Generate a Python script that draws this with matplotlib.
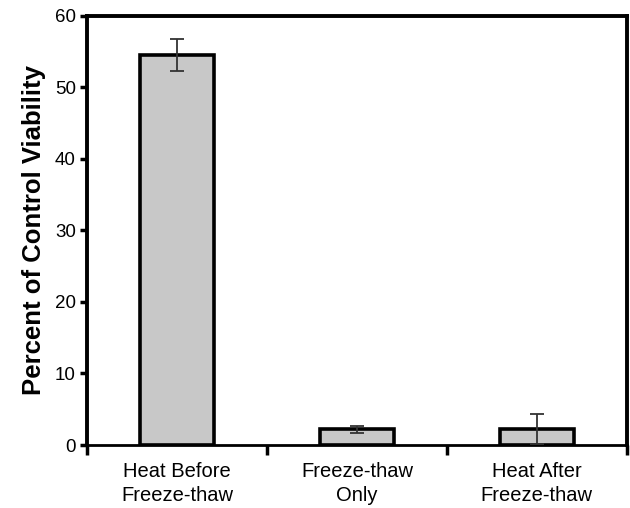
import matplotlib
matplotlib.use("Agg")
import matplotlib.pyplot as plt
from matplotlib.ticker import FixedLocator, NullFormatter

plt.rcParams['font.family'] = ['Liberation Sans', 'DejaVu Sans']

# viability relative to untreated control
groups = ["Heat Before\nFreeze-thaw", "Freeze-thaw\nOnly", "Heat After\nFreeze-thaw"]
viability = [54.5, 2.2, 2.2]
viability_err = [2.2, 0.5, 2.1]
y_ticks = [0, 10, 20, 30, 40, 50, 60]

fig = plt.figure(figsize=(6.3, 5.08), dpi=100)
ax = fig.add_axes([0.138, 0.124, 0.857, 0.845])

pos = list(range(1, len(groups) + 1))
ax.bar(pos, viability, width=0.41, color="#c8c8c8", edgecolor="black",
       linewidth=2.6, zorder=2)
ax.errorbar(pos, viability, yerr=viability_err, fmt="none", ecolor="#333333",
            elinewidth=1.3, capsize=5, capthick=1.3, zorder=3)

ax.set_xlim(0.5, len(groups) + 0.5)
ax.set_ylim(0, 60)
ax.set_yticks(y_ticks)
ax.tick_params(axis="y", labelsize=13.5, direction="out", length=5, width=2.5, pad=3)

# group boundaries get the tick marks, names sit between them
ax.xaxis.set_major_locator(FixedLocator([p - 0.5 for p in pos] + [pos[-1] + 0.5]))
ax.xaxis.set_major_formatter(NullFormatter())
ax.xaxis.set_minor_locator(FixedLocator(pos))
ax.set_xticklabels(groups, minor=True, linespacing=1.35)
ax.tick_params(axis="x", which="major", direction="out", length=7, width=2.5)
ax.tick_params(axis="x", which="minor", length=0, labelsize=14.5, pad=12)

for side in ["top", "right", "left"]:
    ax.spines[side].set_linewidth(2.8)
ax.spines["bottom"].set_linewidth(2.0)

ax.set_ylabel("Percent of Control Viability", fontsize=18.5, fontweight="bold", labelpad=6)

fig.savefig("out.png", dpi=100)
